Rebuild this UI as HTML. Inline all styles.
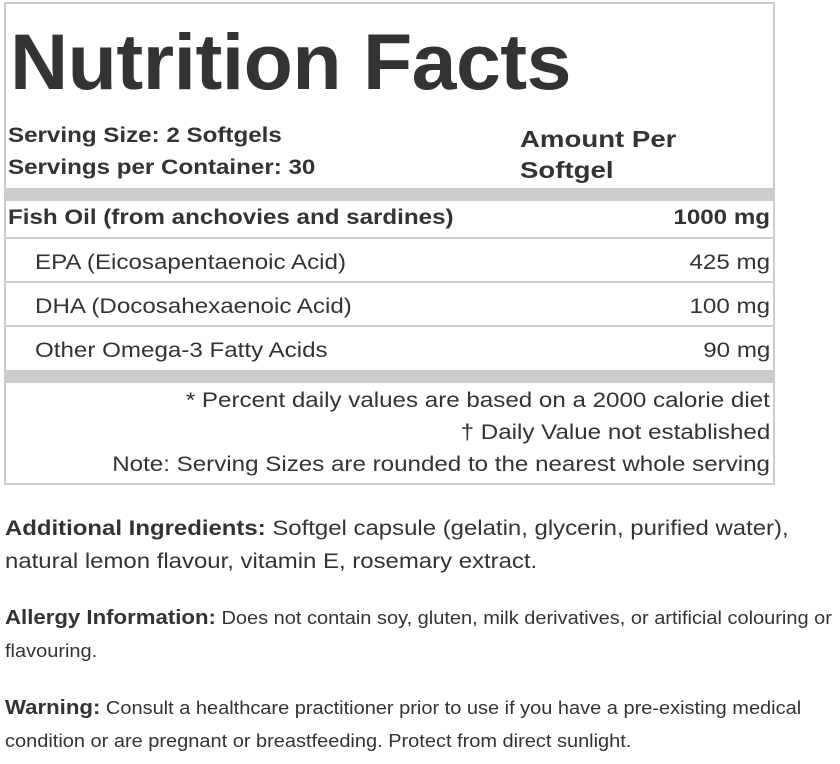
<!DOCTYPE html>
<html><head><meta charset="utf-8"><style>
body{margin:0;width:840px;height:764px;background:#fff;color:#333;font-family:"Liberation Sans",Arial,sans-serif;position:relative;overflow:hidden}
.a{position:absolute;white-space:nowrap;transform-origin:left top}
.box{position:absolute;left:4px;top:2px;width:767px;height:479px;border:2px solid #ccc}
.band{position:absolute;left:6px;width:767px;background:#ccc}
.line{position:absolute;left:6px;width:767px;height:2px;background:#ccc}
.r{right:70px;text-align:right;transform-origin:right top}
.t{font-size:21px;transform:scaleX(1.15)}
b{font-weight:bold}
</style></head><body>
<div class="box"></div>
<div class="a" style="left:10px;top:16px;font-size:79px;font-weight:bold;letter-spacing:-0.5px;transform:scaleX(1.02)">Nutrition Facts</div>
<div class="a t" style="left:8px;top:124px;font-weight:bold">Serving Size: 2 Softgels</div>
<div class="a t" style="left:8px;top:156px;font-weight:bold">Servings per Container: 30</div>
<div class="a" style="left:520px;top:124px;font-size:23px;font-weight:bold;line-height:31px;transform:scaleX(1.2)">Amount Per<br>Softgel</div>
<div class="band" style="top:188px;height:13px"></div>
<div class="a t" style="left:8px;top:206px;font-weight:bold">Fish Oil (from anchovies and sardines)</div>
<div class="a r t" style="top:206px;font-weight:bold">1000 mg</div>
<div class="line" style="top:237px"></div>
<div class="a t" style="left:35px;top:251px">EPA (Eicosapentaenoic Acid)</div>
<div class="a r t" style="top:251px">425 mg</div>
<div class="line" style="top:281px"></div>
<div class="a t" style="left:35px;top:295px">DHA (Docosahexaenoic Acid)</div>
<div class="a r t" style="top:295px">100 mg</div>
<div class="line" style="top:325px"></div>
<div class="a t" style="left:35px;top:339px">Other Omega-3 Fatty Acids</div>
<div class="a r t" style="top:339px">90 mg</div>
<div class="band" style="top:370px;height:13px"></div>
<div class="a r t" style="top:389px">* Percent daily values are based on a 2000 calorie diet</div>
<div class="a r t" style="top:421px">† Daily Value not established</div>
<div class="a r t" style="top:453px">Note: Serving Sizes are rounded to the nearest whole serving</div>
<div class="a" style="left:5px;top:512px;font-size:21px;line-height:33px;transform:scaleX(1.14)"><b>Additional Ingredients:</b> Softgel capsule (gelatin, glycerin, purified water),<br>natural lemon flavour, vitamin E, rosemary extract.</div>
<div class="a" style="left:5px;top:602px;font-size:18px;line-height:33px;transform:scaleX(1.11)"><b style="font-size:20px">Allergy Information:</b> Does not contain soy, gluten, milk derivatives, or artificial colouring or<br>flavouring.</div>
<div class="a" style="left:5px;top:692px;font-size:18px;line-height:33px;transform:scaleX(1.11)"><b style="font-size:20px">Warning:</b> Consult a healthcare practitioner prior to use if you have a pre-existing medical<br>condition or are pregnant or breastfeeding. Protect from direct sunlight.</div>
</body></html>
